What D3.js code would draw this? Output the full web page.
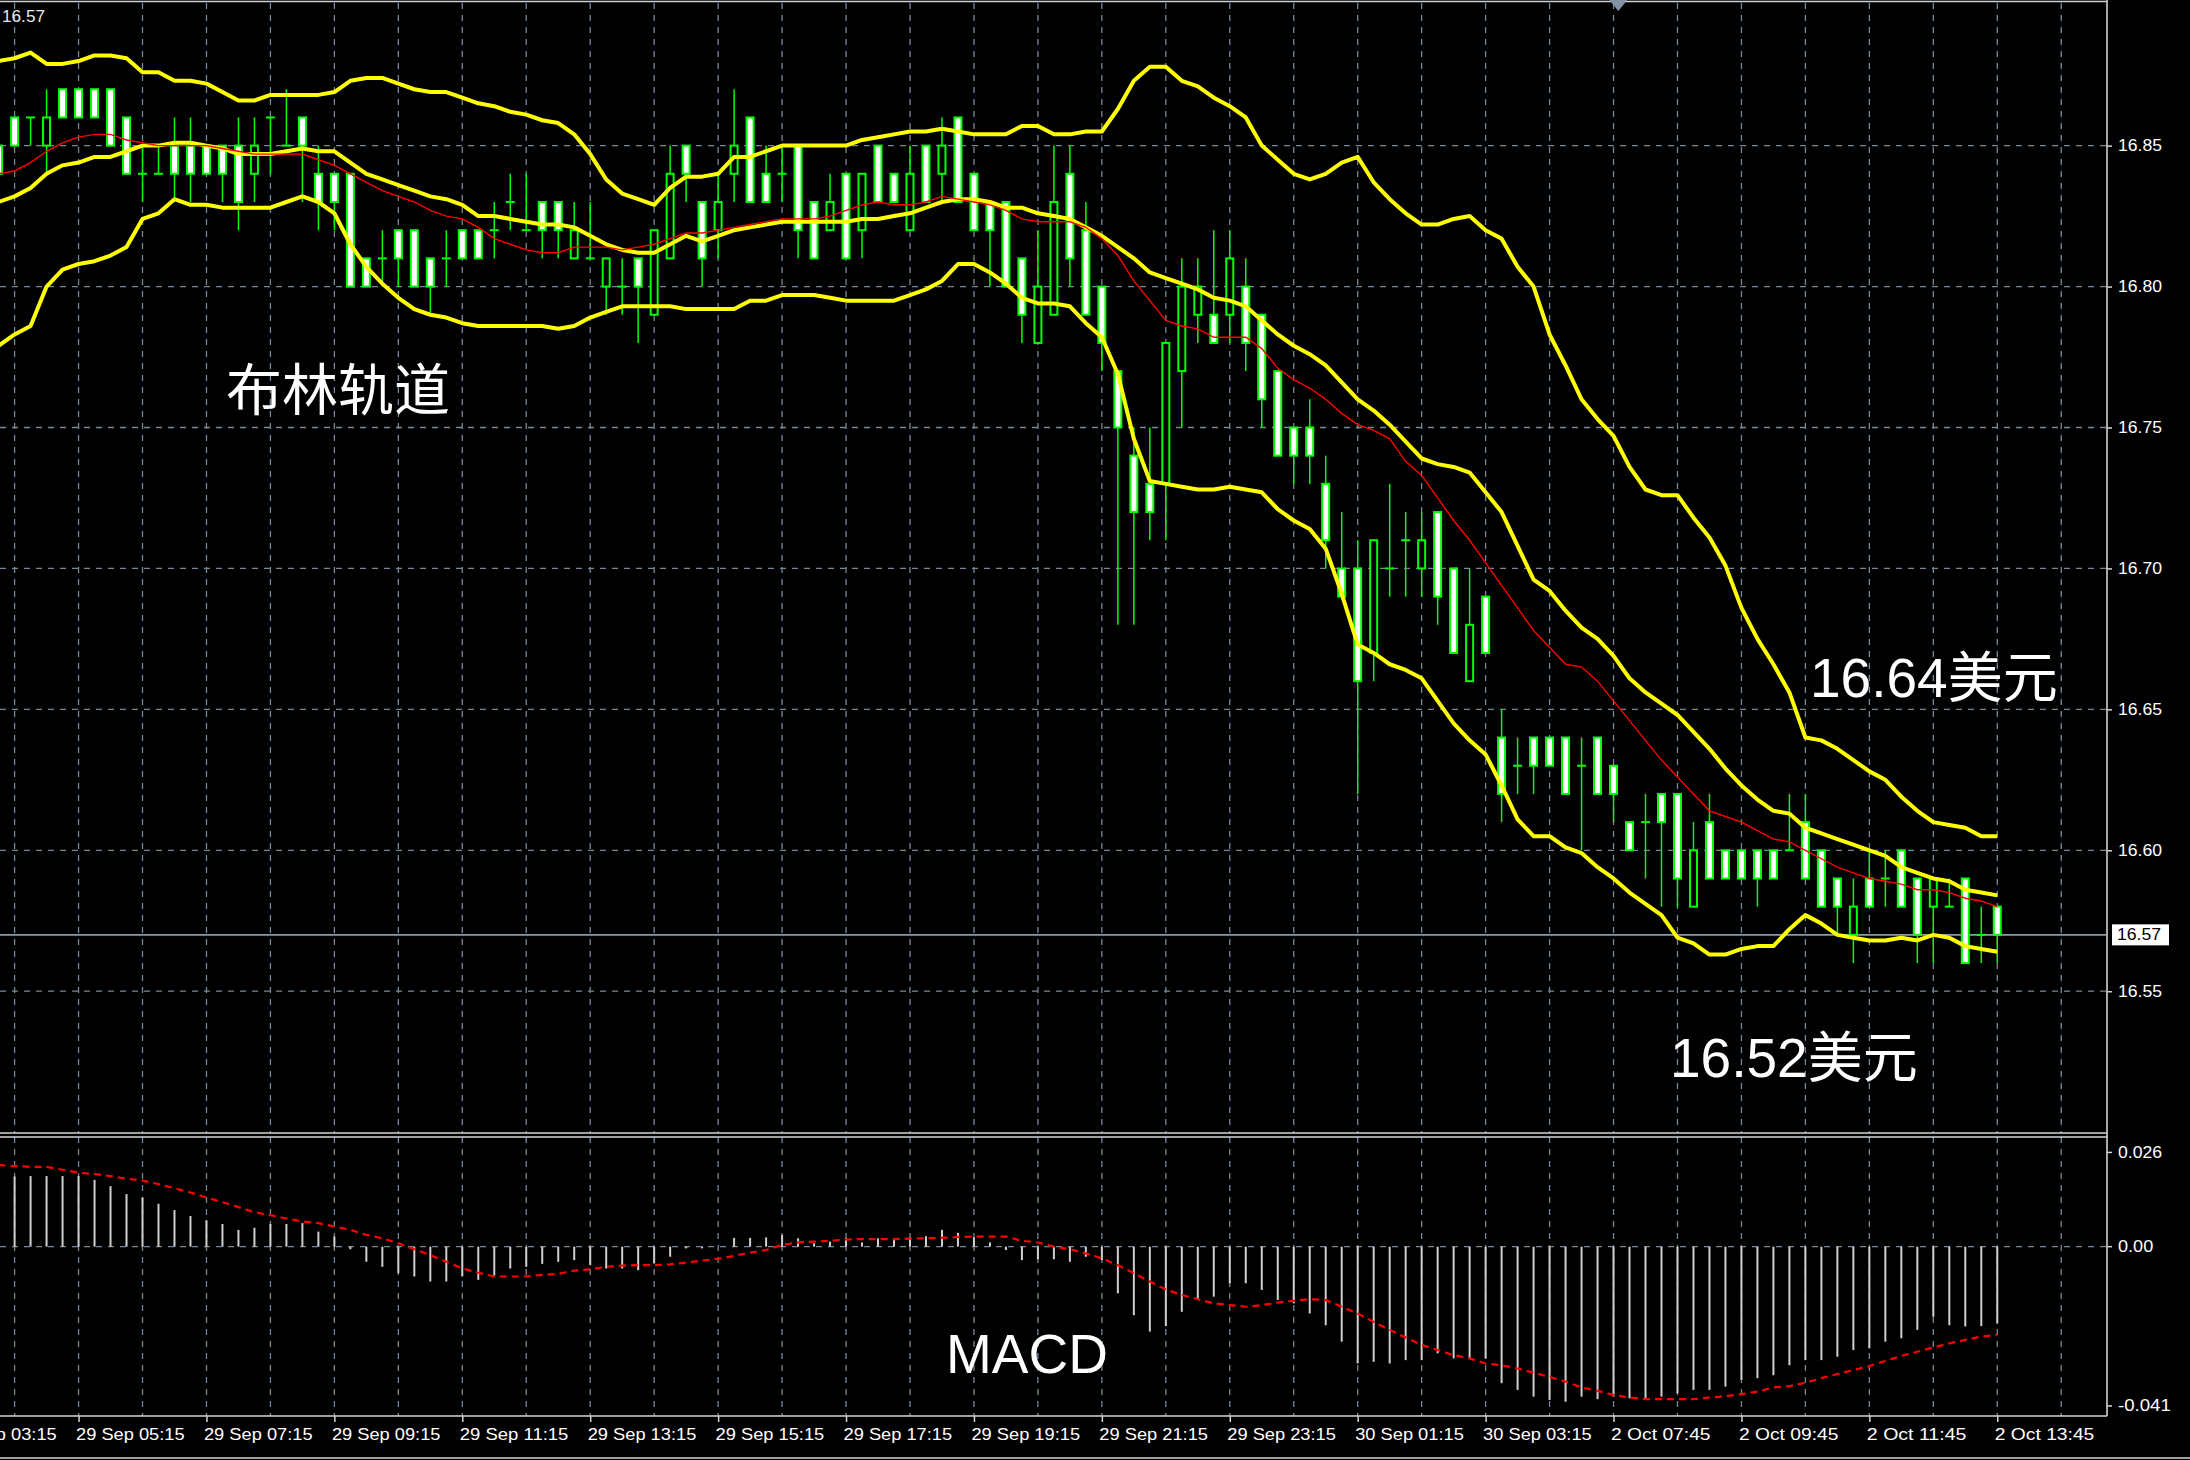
<!DOCTYPE html>
<html><head><meta charset="utf-8">
<script src="https://cdn.jsdelivr.net/npm/d3@7"></script>
<style>
html,body{margin:0;padding:0;background:#000;}
svg{display:block;}
</style></head>
<body>
<svg id="chart" width="2190" height="1460"></svg>
<script>
// ---------- DATA ----------
const opens = [16.85,16.86,16.86,16.85,16.87,16.87,16.87,16.87,16.86,16.84,
16.84,16.85,16.85,16.85,16.85,16.85,16.84,16.86,16.85,16.86,
16.84,16.84,16.84,16.81,16.81,16.82,16.82,16.81,16.81,16.82,
16.82,16.82,16.83,16.82,16.83,16.83,16.81,16.81,16.80,16.80,
16.81,16.79,16.81,16.85,16.83,16.82,16.84,16.86,16.84,16.84,
16.85,16.83,16.82,16.84,16.82,16.85,16.84,16.82,16.85,16.84,
16.86,16.84,16.83,16.83,16.81,16.78,16.79,16.84,16.82,16.80,
16.77,16.74,16.73,16.73,16.77,16.79,16.79,16.79,16.80,16.79,
16.77,16.75,16.75,16.73,16.70,16.70,16.67,16.70,16.71,16.70,
16.72,16.70,16.66,16.69,16.64,16.63,16.64,16.64,16.64,16.63,
16.64,16.63,16.61,16.61,16.62,16.62,16.58,16.61,16.60,16.60,
16.60,16.60,16.60,16.61,16.60,16.59,16.57,16.59,16.59,16.60,
16.59,16.58,16.58,16.59,16.57,16.58];
const highs = [16.85,16.86,16.86,16.87,16.87,16.87,16.87,16.87,16.86,16.85,
16.85,16.86,16.86,16.85,16.85,16.86,16.86,16.86,16.87,16.86,
16.85,16.84,16.84,16.81,16.82,16.82,16.82,16.81,16.82,16.82,
16.82,16.83,16.84,16.84,16.83,16.83,16.83,16.83,16.81,16.81,
16.81,16.82,16.85,16.85,16.83,16.84,16.87,16.86,16.85,16.85,
16.85,16.83,16.84,16.84,16.84,16.85,16.84,16.85,16.85,16.86,
16.86,16.84,16.83,16.83,16.81,16.82,16.85,16.85,16.83,16.80,
16.77,16.75,16.75,16.78,16.81,16.81,16.82,16.82,16.81,16.79,
16.77,16.75,16.76,16.74,16.72,16.71,16.71,16.73,16.72,16.72,
16.72,16.70,16.70,16.69,16.65,16.64,16.64,16.64,16.64,16.64,
16.64,16.63,16.61,16.62,16.62,16.62,16.61,16.62,16.60,16.60,
16.60,16.60,16.62,16.62,16.60,16.59,16.59,16.60,16.60,16.60,
16.59,16.59,16.59,16.59,16.58,16.58];
const lows = [16.83,16.85,16.85,16.84,16.86,16.86,16.86,16.85,16.84,16.83,
16.84,16.83,16.83,16.84,16.83,16.82,16.83,16.84,16.85,16.83,
16.82,16.82,16.80,16.80,16.80,16.80,16.80,16.79,16.80,16.81,
16.81,16.81,16.82,16.82,16.81,16.81,16.81,16.81,16.79,16.79,
16.78,16.79,16.81,16.83,16.80,16.81,16.83,16.83,16.83,16.83,
16.81,16.81,16.82,16.81,16.81,16.83,16.83,16.82,16.83,16.83,
16.83,16.82,16.80,16.80,16.78,16.78,16.79,16.80,16.79,16.77,
16.68,16.68,16.71,16.71,16.75,16.78,16.78,16.78,16.77,16.75,
16.74,16.73,16.73,16.70,16.69,16.62,16.66,16.69,16.69,16.69,
16.68,16.67,16.66,16.67,16.61,16.62,16.62,16.63,16.62,16.60,
16.62,16.61,16.60,16.59,16.58,16.58,16.58,16.59,16.59,16.59,
16.58,16.59,16.60,16.59,16.58,16.57,16.56,16.58,16.58,16.58,
16.56,16.56,16.58,16.56,16.56,16.56];
const closes = [16.84,16.85,16.86,16.86,16.86,16.86,16.86,16.85,16.84,16.84,
16.84,16.84,16.84,16.84,16.84,16.83,16.85,16.86,16.85,16.85,
16.83,16.83,16.80,16.80,16.81,16.81,16.80,16.80,16.81,16.81,
16.81,16.82,16.83,16.82,16.82,16.82,16.82,16.81,16.81,16.80,
16.80,16.82,16.84,16.84,16.81,16.83,16.85,16.83,16.83,16.84,
16.82,16.81,16.83,16.81,16.84,16.83,16.83,16.84,16.83,16.85,
16.83,16.82,16.82,16.80,16.79,16.80,16.83,16.81,16.79,16.78,
16.75,16.72,16.72,16.78,16.80,16.80,16.78,16.81,16.78,16.76,
16.74,16.74,16.74,16.71,16.69,16.66,16.71,16.70,16.71,16.71,
16.69,16.67,16.68,16.67,16.62,16.63,16.63,16.63,16.62,16.63,
16.62,16.62,16.60,16.61,16.61,16.59,16.60,16.59,16.59,16.59,
16.59,16.59,16.60,16.59,16.58,16.58,16.58,16.58,16.59,16.58,
16.57,16.59,16.58,16.56,16.57,16.57];
const upperBand = [16.880,16.881,16.883,16.879,16.879,16.880,16.882,16.882,16.881,16.876,
16.876,16.873,16.873,16.872,16.869,16.866,16.866,16.868,16.868,16.868,
16.868,16.869,16.873,16.874,16.874,16.872,16.870,16.869,16.869,16.867,
16.865,16.864,16.862,16.861,16.859,16.858,16.854,16.847,16.838,16.833,
16.831,16.829,16.835,16.839,16.839,16.840,16.846,16.846,16.848,16.850,
16.850,16.850,16.850,16.850,16.852,16.853,16.854,16.855,16.855,16.856,
16.855,16.854,16.854,16.854,16.857,16.857,16.854,16.854,16.855,16.855,
16.863,16.873,16.878,16.878,16.873,16.871,16.867,16.864,16.860,16.850,
16.845,16.840,16.838,16.840,16.844,16.846,16.837,16.831,16.826,16.822,
16.822,16.824,16.825,16.820,16.817,16.807,16.800,16.783,16.772,16.760,
16.753,16.747,16.736,16.728,16.726,16.726,16.718,16.711,16.701,16.686,
16.675,16.666,16.656,16.640,16.639,16.636,16.632,16.628,16.625,16.619,
16.614,16.610,16.609,16.608,16.605,16.605];
const middleBand = [16.830,16.832,16.835,16.840,16.843,16.844,16.846,16.846,16.848,16.850,
16.850,16.851,16.851,16.850,16.849,16.847,16.847,16.847,16.848,16.849,
16.848,16.848,16.844,16.840,16.838,16.836,16.834,16.832,16.831,16.829,
16.825,16.825,16.824,16.823,16.822,16.822,16.821,16.818,16.815,16.813,
16.812,16.812,16.815,16.818,16.816,16.818,16.820,16.821,16.822,16.823,
16.823,16.823,16.823,16.823,16.824,16.824,16.825,16.826,16.828,16.830,
16.831,16.831,16.830,16.828,16.828,16.826,16.825,16.824,16.821,16.818,
16.814,16.810,16.805,16.803,16.801,16.799,16.796,16.795,16.793,16.788,
16.783,16.779,16.776,16.772,16.766,16.760,16.756,16.751,16.745,16.739,
16.737,16.736,16.734,16.727,16.720,16.708,16.696,16.692,16.685,16.679,
16.675,16.669,16.661,16.656,16.652,16.648,16.642,16.636,16.629,16.623,
16.618,16.614,16.613,16.608,16.606,16.604,16.602,16.600,16.598,16.594,
16.592,16.590,16.589,16.586,16.585,16.584];
const lowerBand = [16.779,16.783,16.786,16.800,16.806,16.808,16.809,16.811,16.814,16.824,
16.826,16.831,16.829,16.829,16.828,16.828,16.828,16.828,16.830,16.832,
16.830,16.826,16.815,16.807,16.801,16.796,16.792,16.790,16.789,16.787,
16.786,16.786,16.786,16.786,16.786,16.785,16.786,16.789,16.791,16.793,
16.793,16.793,16.793,16.792,16.792,16.792,16.792,16.795,16.795,16.797,
16.797,16.797,16.796,16.795,16.795,16.795,16.795,16.797,16.799,16.802,
16.808,16.808,16.805,16.801,16.796,16.794,16.794,16.793,16.787,16.782,
16.769,16.746,16.731,16.730,16.729,16.728,16.728,16.729,16.728,16.727,
16.721,16.717,16.714,16.707,16.691,16.673,16.670,16.666,16.664,16.661,
16.653,16.645,16.639,16.634,16.623,16.611,16.605,16.605,16.601,16.599,
16.594,16.590,16.585,16.581,16.577,16.569,16.567,16.563,16.563,16.565,
16.566,16.566,16.572,16.577,16.574,16.570,16.569,16.568,16.568,16.569,
16.568,16.570,16.569,16.566,16.565,16.564];
const redMA = [16.840,16.841,16.844,16.848,16.851,16.853,16.854,16.854,16.852,16.851,
16.850,16.850,16.850,16.850,16.849,16.848,16.847,16.847,16.847,16.847,
16.845,16.843,16.840,16.837,16.834,16.832,16.830,16.827,16.825,16.824,
16.821,16.817,16.815,16.813,16.812,16.812,16.814,16.814,16.814,16.813,
16.814,16.815,16.817,16.819,16.819,16.820,16.821,16.822,16.823,16.824,
16.824,16.824,16.825,16.827,16.829,16.830,16.829,16.829,16.830,16.832,
16.831,16.830,16.829,16.827,16.824,16.823,16.823,16.823,16.821,16.817,
16.811,16.802,16.795,16.788,16.786,16.785,16.782,16.782,16.782,16.778,
16.771,16.767,16.764,16.760,16.755,16.751,16.749,16.746,16.738,16.733,
16.725,16.717,16.710,16.702,16.694,16.686,16.678,16.672,16.666,16.665,
16.660,16.653,16.646,16.639,16.632,16.626,16.620,16.614,16.612,16.610,
16.607,16.604,16.603,16.600,16.597,16.594,16.592,16.590,16.589,16.588,
16.586,16.586,16.585,16.583,16.582,16.580];
const macdHist = [0.0167,0.0167,0.0168,0.0168,0.0168,0.0168,0.0159,0.0144,0.0125,0.0117,
0.0102,0.0087,0.0073,0.0063,0.0054,0.0040,0.0045,0.0054,0.0054,0.0056,
0.0036,0.0024,-0.0006,-0.0036,-0.0048,-0.0063,-0.0071,-0.0083,-0.0083,-0.0071,
-0.0079,-0.0069,-0.0052,-0.0048,-0.0041,-0.0036,-0.0032,-0.0044,-0.0052,-0.0052,
-0.0056,-0.0040,-0.0024,-0.0004,-0.0004,0.0000,0.0021,0.0021,0.0022,0.0028,
0.0020,0.0008,0.0012,0.0020,0.0010,0.0020,0.0017,0.0022,0.0025,0.0040,
0.0033,0.0022,0.0010,-0.0008,-0.0032,-0.0030,-0.0030,-0.0036,-0.0024,-0.0032,
-0.0111,-0.0163,-0.0202,-0.0189,-0.0155,-0.0127,-0.0119,-0.0087,-0.0087,-0.0103,
-0.0127,-0.0135,-0.0159,-0.0187,-0.0226,-0.0278,-0.0274,-0.0278,-0.0270,-0.0270,
-0.0254,-0.0266,-0.0266,-0.0266,-0.0325,-0.0341,-0.0357,-0.0365,-0.0369,-0.0357,
-0.0363,-0.0357,-0.0361,-0.0365,-0.0357,-0.0349,-0.0341,-0.0341,-0.0333,-0.0317,
-0.0313,-0.0306,-0.0282,-0.0270,-0.0270,-0.0262,-0.0246,-0.0242,-0.0226,-0.0218,
-0.0198,-0.0167,-0.0187,-0.0190,-0.0189,-0.0183];
const macdSignal = [0.0194,0.0192,0.0190,0.0190,0.0183,0.0176,0.0173,0.0168,0.0162,0.0157,
0.0149,0.0139,0.0129,0.0117,0.0106,0.0094,0.0082,0.0075,0.0067,0.0060,
0.0056,0.0048,0.0040,0.0028,0.0020,0.0008,-0.0006,-0.0020,-0.0036,-0.0052,
-0.0062,-0.0071,-0.0071,-0.0071,-0.0067,-0.0065,-0.0057,-0.0054,-0.0048,-0.0045,
-0.0044,-0.0044,-0.0042,-0.0038,-0.0033,-0.0029,-0.0022,-0.0014,-0.0008,0.0004,
0.0010,0.0012,0.0014,0.0017,0.0018,0.0018,0.0018,0.0019,0.0020,0.0021,
0.0023,0.0024,0.0024,0.0024,0.0014,0.0010,0.0000,-0.0006,-0.0016,-0.0028,
-0.0044,-0.0063,-0.0083,-0.0102,-0.0115,-0.0125,-0.0135,-0.0139,-0.0143,-0.0139,
-0.0133,-0.0129,-0.0125,-0.0127,-0.0143,-0.0159,-0.0179,-0.0198,-0.0216,-0.0234,
-0.0246,-0.0258,-0.0266,-0.0278,-0.0282,-0.0290,-0.0300,-0.0310,-0.0321,-0.0335,
-0.0343,-0.0353,-0.0359,-0.0363,-0.0363,-0.0363,-0.0363,-0.0359,-0.0356,-0.0351,
-0.0345,-0.0335,-0.0332,-0.0324,-0.0313,-0.0303,-0.0294,-0.0284,-0.0272,-0.0260,
-0.0250,-0.0240,-0.0230,-0.0222,-0.0214,-0.0210];
const priceTicks = [16.55,16.60,16.65,16.70,16.75,16.80,16.85];
const macdTicks = [0.026, 0, -0.041];
const macdTickLabels = ["0.026","0.00","-0.041"];
const timeTickIndex = [-3,5,13,21,29,37,45,53,61,69,77,85,93,101,109,117,125];
const timeTickLabels = ["29 Sep 03:15","29 Sep 05:15","29 Sep 07:15","29 Sep 09:15","29 Sep 11:15",
"29 Sep 13:15","29 Sep 15:15","29 Sep 17:15","29 Sep 19:15","29 Sep 21:15","29 Sep 23:15",
"30 Sep 01:15","30 Sep 03:15","2 Oct 07:45","2 Oct 09:45","2 Oct 11:45","2 Oct 13:45"];
const lastPrice = 16.57;

// ---------- LAYOUT ----------
const plotRight = 2106, mainTop = 3, mainBottom = 1133, macdTop = 1137, macdBottom = 1416;
const GREEN = "#00ff00", YELLOW = "#ffff00", RED = "#ff0000", GRID = "#778899", FRAME = "#d4d4d4";
const AXFONT = "'Liberation Sans', Arial, sans-serif";

const svg = d3.select("#chart");
svg.append("rect").attr("width",2190).attr("height",1460).attr("fill","#000");

const idx = d3.range(opens.length);
const x = d3.scaleLinear().domain([0, 131.8]).range([-1.4, plotRight]);
const y = d3.scaleLinear().domain([16.4997, 16.9006]).range([mainBottom, mainTop]);
const ym = d3.scaleLinear().domain([-0.0403, 0.0261]).range([macdBottom, macdTop]);

const defs = svg.append("defs");
defs.append("clipPath").attr("id","clipMain").append("rect")
  .attr("x",0).attr("y",mainTop).attr("width",plotRight).attr("height",mainBottom-mainTop);
defs.append("clipPath").attr("id","clipMacd").append("rect")
  .attr("x",0).attr("y",macdTop).attr("width",plotRight).attr("height",macdBottom-macdTop);

// ---------- GRID ----------
const gridIdx = d3.range(1, 131, 4);
const grid = svg.append("g").attr("stroke",GRID).attr("stroke-width",1.3).attr("stroke-dasharray","6,6");
grid.selectAll("line.vm").data(gridIdx).join("line").attr("class","vm")
  .attr("x1",d=>x(d)).attr("x2",d=>x(d)).attr("y1",mainTop).attr("y2",mainBottom);
grid.selectAll("line.vd").data(gridIdx).join("line").attr("class","vd")
  .attr("x1",d=>x(d)).attr("x2",d=>x(d)).attr("y1",macdTop).attr("y2",macdBottom);
grid.selectAll("line.h").data(priceTicks).join("line").attr("class","h")
  .attr("x1",0).attr("x2",plotRight).attr("y1",d=>y(d)).attr("y2",d=>y(d));
grid.append("line").attr("x1",0).attr("x2",plotRight).attr("y1",ym(0)).attr("y2",ym(0));

// current price line
svg.append("line").attr("x1",0).attr("x2",plotRight).attr("y1",y(lastPrice)).attr("y2",y(lastPrice))
  .attr("stroke","#8a9aaa").attr("stroke-width",1.6);

// ---------- CANDLES ----------
const main = svg.append("g").attr("clip-path","url(#clipMain)");
const cg = main.append("g");
cg.selectAll("line.wick").data(idx).join("line").attr("class","wick")
  .attr("x1",i=>x(i)).attr("x2",i=>x(i)).attr("y1",i=>y(highs[i])).attr("y2",i=>y(lows[i]))
  .attr("stroke",GREEN).attr("stroke-width",1.5);
const bodies = idx.filter(i=>opens[i]!==closes[i]);
const dojis = idx.filter(i=>opens[i]===closes[i]);
cg.selectAll("rect.body").data(bodies).join("rect").attr("class","body")
  .attr("x",i=>x(i)-3.5).attr("width",7)
  .attr("y",i=>y(Math.max(opens[i],closes[i])))
  .attr("height",i=>y(Math.min(opens[i],closes[i]))-y(Math.max(opens[i],closes[i])))
  .attr("fill",i=>closes[i]<opens[i]?"#ffffff":"#000000")
  .attr("stroke",GREEN).attr("stroke-width",2);
cg.selectAll("line.doji").data(dojis).join("line").attr("class","doji")
  .attr("x1",i=>x(i)-4.5).attr("x2",i=>x(i)+4.5).attr("y1",i=>y(opens[i])).attr("y2",i=>y(opens[i]))
  .attr("stroke",GREEN).attr("stroke-width",2);

// ---------- BOLLINGER + MA ----------
const mkLine = arr => d3.line().x(i=>x(i)).y(i=>y(arr[i]))(idx);
[upperBand, middleBand, lowerBand].forEach(b=>{
  main.append("path").attr("d",mkLine(b)).attr("fill","none")
    .attr("stroke",YELLOW).attr("stroke-width",4).attr("stroke-linejoin","round");
});
main.append("path").attr("d",mkLine(redMA)).attr("fill","none")
  .attr("stroke",RED).attr("stroke-width",1.4);

// ---------- MACD ----------
const mg = svg.append("g").attr("clip-path","url(#clipMacd)");
mg.selectAll("line.hist").data(idx).join("line").attr("class","hist")
  .attr("x1",i=>x(i)).attr("x2",i=>x(i)).attr("y1",ym(0)).attr("y2",i=>ym(macdHist[i]))
  .attr("stroke","#d0d0d0").attr("stroke-width",2);
mg.append("path").attr("d",d3.line().x(i=>x(i)).y(i=>ym(macdSignal[i]))(idx))
  .attr("fill","none").attr("stroke",RED).attr("stroke-width",2.2).attr("stroke-dasharray","7,5");

// ---------- FRAME ----------
const fr = svg.append("g").attr("stroke",FRAME).attr("stroke-width",1.6);
fr.append("line").attr("x1",0).attr("x2",plotRight).attr("y1",1.5).attr("y2",1.5);
fr.append("line").attr("x1",plotRight+1).attr("x2",plotRight+1).attr("y1",0).attr("y2",macdBottom);
fr.append("line").attr("x1",0).attr("x2",plotRight+1).attr("y1",mainBottom).attr("y2",mainBottom);
fr.append("line").attr("x1",0).attr("x2",plotRight+1).attr("y1",macdTop).attr("y2",macdTop);
fr.append("line").attr("x1",0).attr("x2",plotRight+1).attr("y1",macdBottom).attr("y2",macdBottom);
fr.append("line").attr("x1",0).attr("x2",2190).attr("y1",1458).attr("y2",1458);

// chart shift marker
svg.append("path").attr("fill","#8494a4")
  .attr("d",`M${x(101.3)-9},0 L${x(101.3)+9},0 L${x(101.3)},11 Z`);

// ---------- AXES ----------
const pa = svg.append("g").attr("transform",`translate(${plotRight+1},0)`)
  .call(d3.axisRight(y).tickValues(priceTicks).tickSize(5).tickPadding(6).tickFormat(d3.format(".2f")));
pa.select(".domain").remove();
pa.selectAll("line").attr("stroke",FRAME).attr("stroke-width",1.5);
pa.selectAll("text").attr("fill","#ffffff").style("font-family",AXFONT).style("font-size","16px")
  .attr("textLength",44).attr("lengthAdjust","spacingAndGlyphs");

const macdOffsets = [15, 0, -13];
const ma = svg.append("g").attr("transform",`translate(${plotRight+1},0)`)
  .call(d3.axisRight(ym).tickValues(macdTicks).tickSize(5).tickPadding(6).tickFormat((d,i)=>macdTickLabels[i]));
ma.select(".domain").remove();
ma.selectAll(".tick").attr("transform",(d,i)=>`translate(0,${ym(d)+macdOffsets[i]})`);
ma.selectAll("line").attr("stroke",FRAME).attr("stroke-width",1.5);
ma.selectAll("text").attr("fill","#ffffff").style("font-family",AXFONT).style("font-size","16px")
  .attr("textLength",(d,i)=>macdTickLabels[i].length*8.8).attr("lengthAdjust","spacingAndGlyphs");

const ta = svg.append("g").attr("transform",`translate(0,${macdBottom})`)
  .call(d3.axisBottom(x).tickValues(timeTickIndex).tickSize(6).tickPadding(6).tickFormat((d,i)=>timeTickLabels[i]));
ta.select(".domain").remove();
ta.selectAll("line").attr("stroke",FRAME).attr("stroke-width",1.5);
ta.selectAll("text").attr("fill","#ffffff").attr("text-anchor","start").attr("x",-3)
  .style("font-family",AXFONT).style("font-size","17px")
  .attr("textLength",(d,i)=>timeTickLabels[i].length*9.05).attr("lengthAdjust","spacingAndGlyphs");

// current price tag
const tag = svg.append("g").attr("transform",`translate(${plotRight+6},${y(lastPrice)})`);
tag.append("rect").attr("x",0).attr("y",-10.5).attr("width",57).attr("height",21).attr("fill","#ffffff");
tag.append("text").attr("x",5).attr("y",0).attr("dy","0.35em").text(d3.format(".2f")(lastPrice))
  .attr("fill","#000").style("font-family",AXFONT).style("font-size","16px")
  .attr("textLength",44).attr("lengthAdjust","spacingAndGlyphs");

// top-left price
svg.append("text").attr("x",2).attr("y",22).text(d3.format(".2f")(lastPrice))
  .attr("fill","#e8e8e8").style("font-family",AXFONT).style("font-size","16px")
  .attr("textLength",43).attr("lengthAdjust","spacingAndGlyphs");

// ---------- ANNOTATIONS ----------
const annFont = "'Liberation Sans', Arial, 'Noto Sans CJK SC', sans-serif";
svg.append("text").attr("x",226).attr("y",410).text("布林轨道")
  .attr("fill","#fff").style("font-family","'Noto Sans CJK SC', sans-serif").style("font-size","56px");
svg.append("text").attr("x",1810).attr("y",697).text("16.64美元")
  .attr("fill","#fff").style("font-family",annFont).style("font-size","55px");
svg.append("text").attr("x",1670).attr("y",1077).text("16.52美元")
  .attr("fill","#fff").style("font-family",annFont).style("font-size","55px");
svg.append("text").attr("x",946).attr("y",1373).text("MACD")
  .attr("fill","#fff").style("font-family",annFont).style("font-size","55px");
</script>
</body></html>
